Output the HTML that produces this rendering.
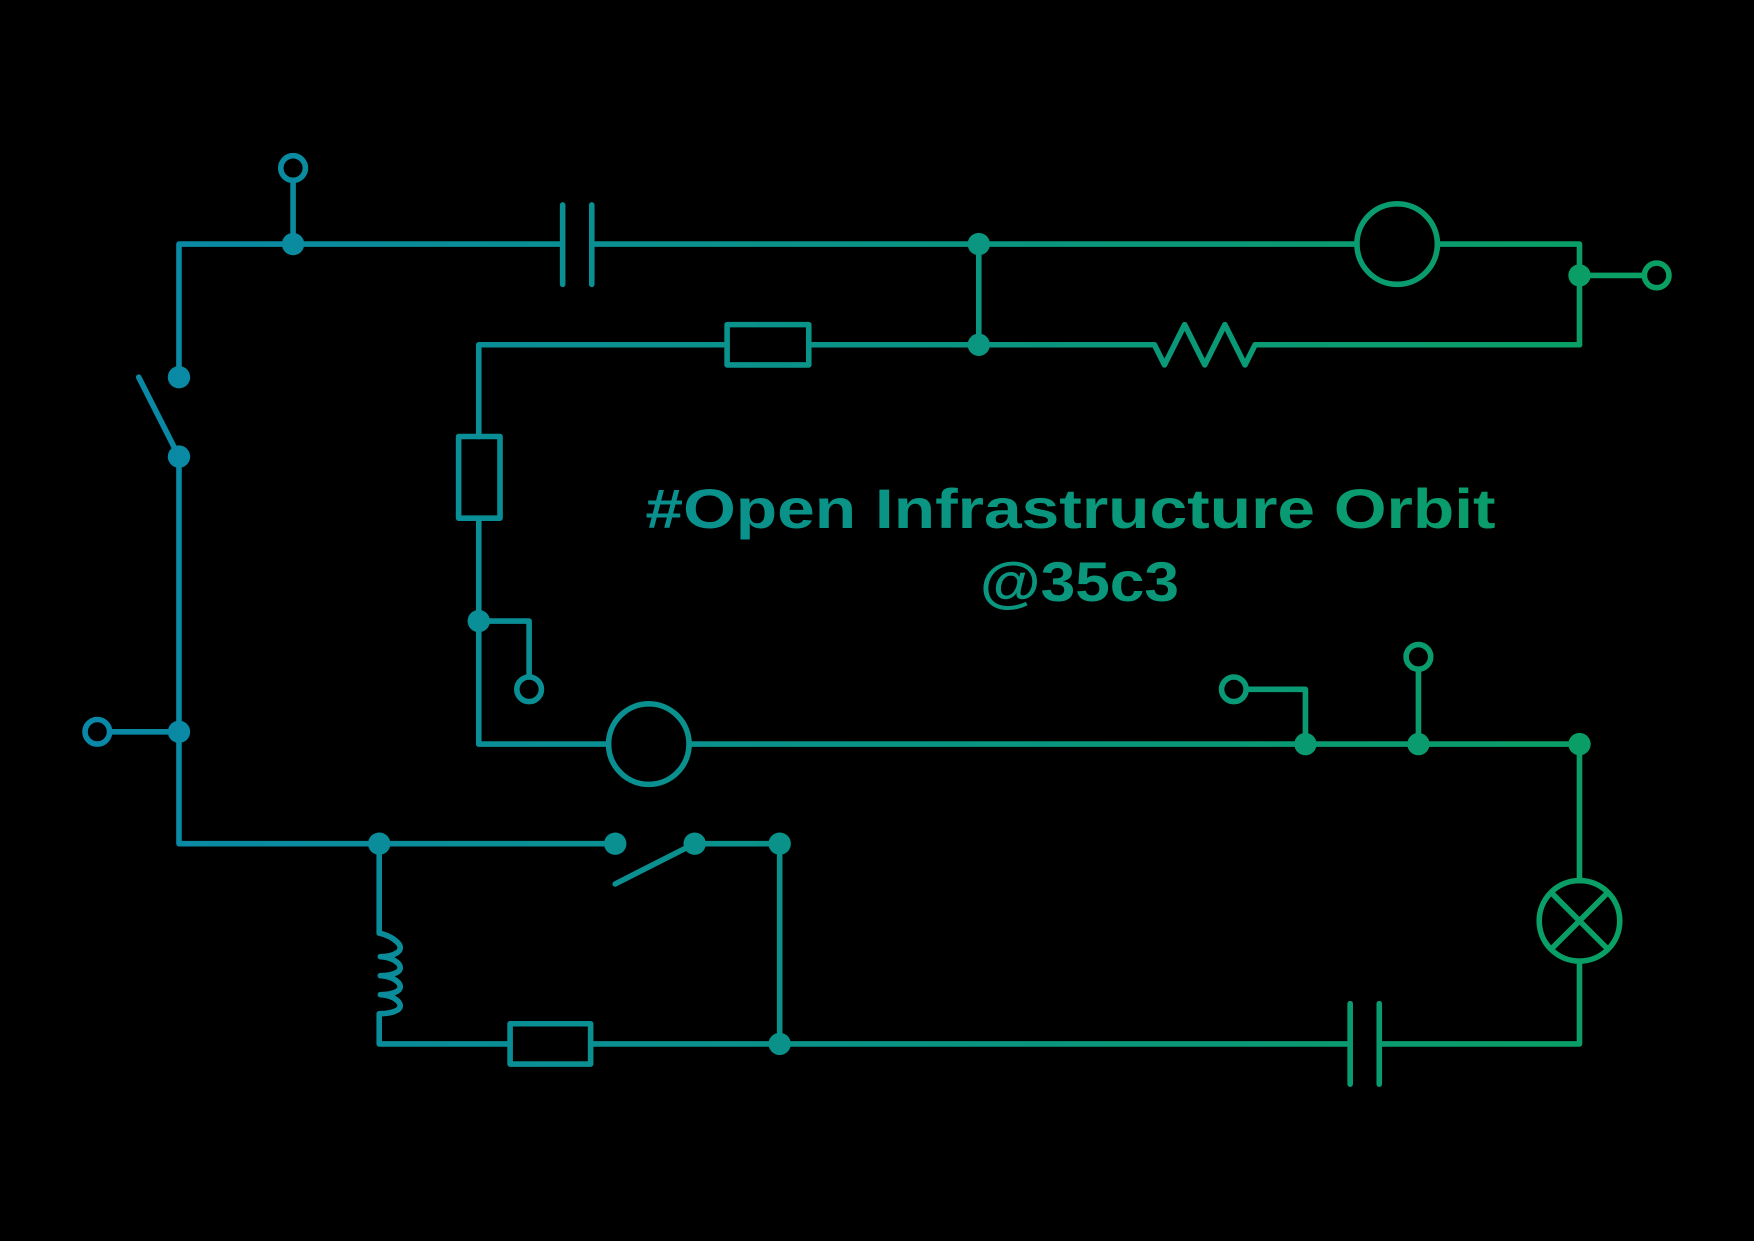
<!DOCTYPE html>
<html><head><meta charset="utf-8"><style>html,body{margin:0;padding:0;background:#000}svg{display:block}</style></head>
<body>
<svg width="1754" height="1241" viewBox="0 0 1568 1109" xmlns="http://www.w3.org/2000/svg">
<defs>
<linearGradient id="g" gradientUnits="userSpaceOnUse" x1="80" y1="0" x2="1500" y2="0">
<stop offset="0" stop-color="#0a88a8"/><stop offset="1" stop-color="#0aa062"/>
</linearGradient>
</defs>
<rect width="1568" height="1109" fill="#000"/>
<g fill="none" stroke="url(#g)" stroke-width="5" stroke-linecap="round" stroke-linejoin="round">
<path d="M160 337 V218 H503 M503 183 V254 M529 183 V254 M529 218 H1213 M1285 218 H1412 V308"/>
<circle cx="1249" cy="218" r="36"/>
<path d="M262 218 V161"/><circle cx="262" cy="150" r="11"/>
<path d="M875 218 V308"/>
<path d="M1412 246 H1470"/><circle cx="1481" cy="246" r="11"/>
<path d="M428 390 V308 H650 M723 308 H1032 L1041 326 L1059 290 L1077 326 L1095 290 L1113 326 L1122 308 H1412"/>
<rect x="650" y="290" width="73" height="36"/>
<rect x="410" y="390" width="37" height="73"/>
<path d="M428 463 V665 H544 M616 665 H1412"/>
<circle cx="580" cy="665" r="36"/>
<path d="M428 555 H473 V605"/><circle cx="473" cy="616" r="11"/>
<path d="M1167 665 V616 H1114"/><circle cx="1103" cy="616" r="11"/>
<path d="M1268 665 V598"/><circle cx="1268" cy="587" r="11"/>
<path d="M1412 665 V787 M1412 859 V933 H1233 M1233 897 V969 M1207 897 V969 M1207 933 H528"/>
<circle cx="1412" cy="823" r="36"/>
<path d="M1387 798 L1437 848 M1437 798 L1387 848"/>
<rect x="456" y="915" width="72" height="36"/>
<path d="M456 933 H339 V906 C352 906 362 902 356 895 C350 889 340 889 340 889 C352 889 362 885 356 878 C350 872 340 872 340 872 C352 872 362 868 356 861 C350 855 340 855 340 855 C352 855 362 850 356 843 C350 836 339 834 339 834 V754"/>
<path d="M160 408 V754 H550 M550 790 L621 754 H697 V933"/>
<path d="M124 337 L160 408"/>
<path d="M160 654 H98"/><circle cx="87" cy="654" r="11"/>
</g>
<g fill="url(#g)">
<circle cx="262" cy="218" r="10"/><circle cx="875" cy="218" r="10"/><circle cx="875" cy="308" r="10"/>
<circle cx="1412" cy="246" r="10"/><circle cx="160" cy="337" r="10"/><circle cx="160" cy="408" r="10"/>
<circle cx="160" cy="654" r="10"/><circle cx="428" cy="555" r="10"/><circle cx="1167" cy="665" r="10"/>
<circle cx="1268" cy="665" r="10"/><circle cx="1412" cy="665" r="10"/><circle cx="339" cy="754" r="10"/>
<circle cx="550" cy="754" r="10"/><circle cx="621" cy="754" r="10"/><circle cx="697" cy="754" r="10"/>
<circle cx="697" cy="933" r="10"/>
</g>
<g font-family="Liberation Sans, sans-serif" font-weight="bold" font-size="50" fill="url(#g)" text-anchor="middle">
<text x="957" y="472" textLength="760" lengthAdjust="spacingAndGlyphs">#Open Infrastructure Orbit</text>
<text x="965" y="537" textLength="178" lengthAdjust="spacingAndGlyphs">@35c3</text>
</g>
</svg>
</body></html>
